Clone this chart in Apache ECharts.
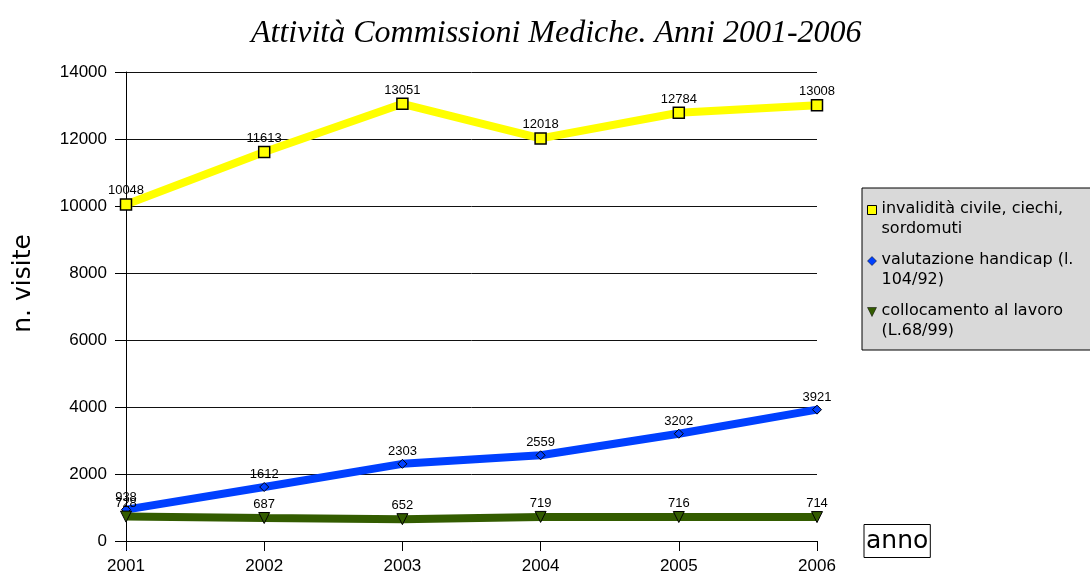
<!DOCTYPE html>
<html>
<head>
<meta charset="utf-8">
<title>Attività Commissioni Mediche</title>
<script src="https://cdn.jsdelivr.net/npm/echarts@6/dist/echarts.min.js"></script>
<style>
  html, body { margin: 0; padding: 0; background: #fff; }
  #chart { width: 1090px; height: 579px; }
</style>
</head>
<body>
<div id="chart"></div>
<script>
// dati
const anni = ["2001", "2002", "2003", "2004", "2005", "2006"];
const invalidita = [10048, 11613, 13051, 12018, 12784, 13008];
const handicap = [938, 1612, 2303, 2559, 3202, 3921];
const collocamento = [728, 687, 652, 719, 716, 714];
const nomi = [
  "invalidità civile, ciechi, sordomuti",
  "valutazione handicap (l. 104/92)",
  "collocamento al lavoro (L.68/99)"
];
// testo legenda su due righe
const legendaTesto = {
  [nomi[0]]: "invalidità civile, ciechi,\nsordomuti",
  [nomi[1]]: "valutazione handicap (l.\n104/92)",
  [nomi[2]]: "collocamento al lavoro\n(L.68/99)"
};
// icone legenda: forma in alto + punto invisibile in basso, cosi' sta sulla prima riga
const iconaQuadrato = "path://M0,0 L10,0 L10,10 L0,10 Z M5,30 L5,30";
const iconaRombo = "path://M5,0 L10,5 L5,10 L0,5 Z M5,30 L5,30";
const iconaTriangolo = "path://M0,0 L10,0 L5,10 Z M5,30 L5,30";

const chart = echarts.init(document.getElementById("chart"));

const labelStyle = {
  show: true,
  position: "top",
  distance: 1,
  color: "#000",
  fontSize: 13,
  fontFamily: "Liberation Sans"
};

const option = {
  animation: false,
  title: {
    text: "Attività Commissioni Mediche. Anni 2001-2006",
    left: 246,
    top: 13,
    textStyle: {
      fontFamily: "Liberation Serif",
      fontStyle: "italic",
      fontWeight: "normal",
      fontSize: 32,
      color: "#000"
    }
  },
  legend: {
    orient: "vertical",
    left: 862,
    top: 188,
    padding: [11, 40, 9, 5],
    itemGap: 11,
    itemWidth: 9,
    itemHeight: 27,
    backgroundColor: "#d9d9d9",
    borderColor: "#000",
    borderWidth: 1,
    borderRadius: 0,
    formatter: (name) => legendaTesto[name],
    textStyle: {
      fontFamily: "DejaVu Sans",
      fontSize: 16,
      lineHeight: 20,
      color: "#000"
    },
    data: [
      { name: nomi[0], icon: iconaQuadrato, itemStyle: { borderColor: "#000", borderWidth: 1 } },
      { name: nomi[1], icon: iconaRombo, itemStyle: { borderColor: "#000", borderWidth: 0.5 } },
      { name: nomi[2], icon: iconaTriangolo, itemStyle: { borderColor: "#000", borderWidth: 0.5 } }
    ]
  },
  grid: {
    left: 126,
    right: 273,
    top: 72,
    bottom: 38,
    containLabel: false
  },
  xAxis: {
    type: "category",
    data: anni,
    boundaryGap: false,
    name: "anno",
    nameLocation: "end",
    nameGap: 47,
    nameTextStyle: {
      fontFamily: "DejaVu Sans",
      fontSize: 25,
      color: "#000",
      borderColor: "#000",
      borderWidth: 1,
      padding: [5, 2, 3, 2],
      verticalAlign: "middle"
    },
    axisLine: { lineStyle: { color: "#000", width: 1 } },
    axisTick: { show: true, length: 10, alignWithLabel: true, lineStyle: { color: "#000" } },
    axisLabel: {
      margin: 17,
      color: "#000",
      fontFamily: "Liberation Sans",
      fontSize: 17
    }
  },
  yAxis: {
    type: "value",
    min: 0,
    max: 14000,
    interval: 2000,
    name: "n. visite",
    nameLocation: "middle",
    nameGap: 90,
    nameRotate: 90,
    nameTextStyle: {
      fontFamily: "DejaVu Sans",
      fontSize: 25,
      color: "#000",
      padding: [0, 0, 0, 46]
    },
    axisLine: { show: true, lineStyle: { color: "#000", width: 1 } },
    axisTick: { show: true, length: 11, lineStyle: { color: "#000" } },
    axisLabel: {
      margin: 19,
      color: "#000",
      fontFamily: "Liberation Sans",
      fontSize: 17,
      formatter: (v) => String(v)
    },
    splitLine: { show: true, lineStyle: { color: "#111", width: 1 } }
  },
  series: [
    {
      name: nomi[0],
      type: "line",
      data: invalidita,
      symbol: "rect",
      symbolSize: 11,
      lineStyle: { color: "#ffff00", width: 8 },
      itemStyle: { color: "#ffff00", borderColor: "#000", borderWidth: 1.5 },
      label: labelStyle,
      z: 3
    },
    {
      name: nomi[1],
      type: "line",
      data: handicap,
      symbol: "diamond",
      symbolSize: 9,
      lineStyle: { color: "#0040ff", width: 8 },
      itemStyle: { color: "#0040ff", borderColor: "#000", borderWidth: 1 },
      label: labelStyle,
      z: 4
    },
    {
      name: nomi[2],
      type: "line",
      data: collocamento,
      symbol: "path://M0,0 L10,0 L5,10 Z",
      symbolSize: 11,
      lineStyle: { color: "#335c00", width: 8 },
      itemStyle: { color: "#335c00", borderColor: "#000", borderWidth: 1 },
      label: labelStyle,
      z: 5
    }
  ]
};

chart.setOption(option);
</script>
</body>
</html>
